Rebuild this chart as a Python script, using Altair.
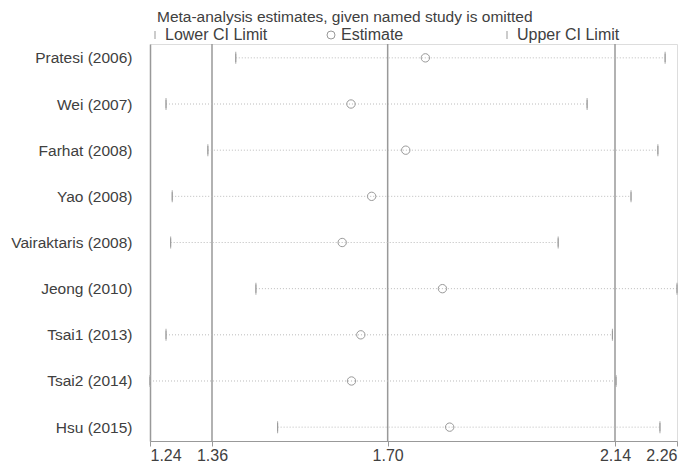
import altair as alt
import pandas as pd

studies = ["Pratesi (2006)", "Wei (2007)", "Farhat (2008)", "Yao (2008)",
           "Vairaktaris (2008)", "Jeong (2010)", "Tsai1 (2013)", "Tsai2 (2014)",
           "Hsu (2015)"]
lower = [1.406, 1.271, 1.352, 1.283, 1.280, 1.445, 1.271, 1.240, 1.487]
estimate = [1.773, 1.629, 1.735, 1.669, 1.612, 1.806, 1.648, 1.630, 1.820]
upper = [2.237, 2.086, 2.223, 2.171, 2.030, 2.260, 2.135, 2.142, 2.227]
overall = [1.36, 1.70, 2.14]
tick_values = [1.24, 1.36, 1.70, 2.14, 2.26]
types = ["Lower CI Limit", "Estimate", "Upper CI Limit"]

FONT = "Liberation Sans"
TXT = "#404040"

wide = pd.DataFrame({"study": studies, "lower": lower, "estimate": estimate, "upper": upper})
long_rows = []
for s, lo, es, up in zip(studies, lower, estimate, upper):
    long_rows.append({"study": s, "type": types[0], "value": lo})
    long_rows.append({"study": s, "type": types[1], "value": es})
    long_rows.append({"study": s, "type": types[2], "value": up})
long_df = pd.DataFrame(long_rows)
limits_df = long_df[long_df["type"] != types[1]]

xscale = alt.Scale(domain=[1.24, 2.26], nice=False, zero=False)
yenc = alt.Y("study:N", sort=studies,
             scale=alt.Scale(type="point", padding=0.3),
             axis=alt.Axis(title=None, ticks=False, labelPadding=18,
                           labelFontSize=15.5, labelColor=TXT, labelFont=FONT,
                           domainColor="#999999", domainWidth=1.5, grid=False))
xaxis = alt.Axis(title=None, values=tick_values, format=".2f", grid=False,
                 labelFontSize=16, labelColor=TXT, labelFont=FONT,
                 domainColor="#999999", tickColor="#999999", tickSize=5,
                 labelPadding=1)

vlines = alt.Chart(pd.DataFrame({"x": overall})).mark_rule(
    color="#999999", strokeWidth=1.5
).encode(x=alt.X("x:Q", scale=xscale, axis=xaxis))

dots = alt.Chart(wide).mark_rule(
    color="#bbbbbb", strokeDash=[1, 2], strokeWidth=1
).encode(
    x=alt.X("lower:Q", scale=xscale, axis=xaxis),
    x2="upper:Q",
    y=yenc,
)

points = alt.Chart(long_df).mark_point(
    filled=False, color="#999999", strokeWidth=1, opacity=1, size=70
).encode(
    x=alt.X("value:Q", scale=xscale, axis=xaxis),
    y=yenc,
    shape=alt.Shape("type:N",
                    scale=alt.Scale(domain=types, range=["M0,-1L0,1", "circle", "M0,-1L0,1"]),
                    legend=alt.Legend(title=None, orient="none", legendX=-3, legendY=-17,
                                      direction="horizontal", columns=3, gridAlign="all",
                                      columnPadding=55, labelFontSize=16, labelColor=TXT,
                                      labelFont=FONT, symbolSize=64, symbolStrokeColor="#999999",
                                      symbolStrokeWidth=1, labelOffset=2, padding=0)),
)

ticks = alt.Chart(limits_df).mark_tick(
    color="#aaaaaa", thickness=1, size=12, opacity=1
).encode(
    x=alt.X("value:Q", scale=xscale, axis=xaxis),
    y=yenc,
)

chart = alt.layer(vlines, dots, ticks, points).properties(
    width=527, height=397,
    autosize=alt.AutoSizeParams(type="none"),
    padding={"left": 142, "top": 36, "right": 15, "bottom": 23},
    title=alt.TitleParams(text="Meta-analysis estimates, given named study is omitted",
                          anchor="start", frame="group", orient="top", offset=2, dx=7,
                          fontSize=15.5, font=FONT, fontWeight="normal", color=TXT),
).configure_view(stroke=None).configure(font=FONT)

chart.save("out.html", embed_options={"renderer": "svg", "actions": False})
